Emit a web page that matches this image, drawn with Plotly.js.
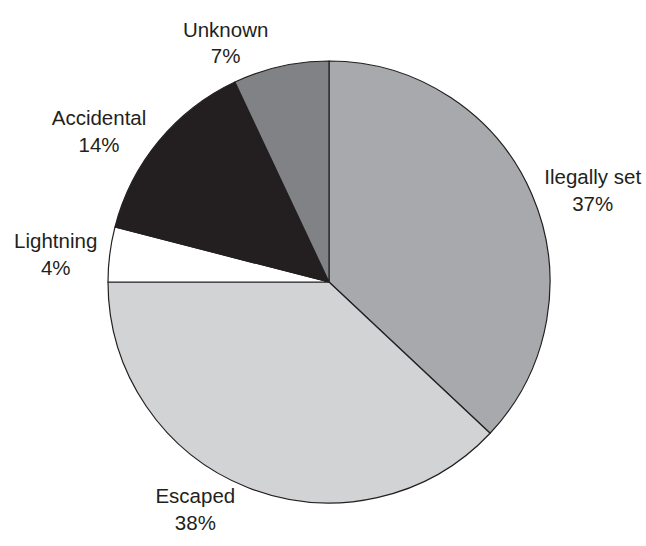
<!DOCTYPE html>
<html>
<head>
<meta charset="utf-8">
<script src="https://cdn.plot.ly/plotly-3.0.1.min.js"></script>
<style>
  html, body { margin: 0; padding: 0; background: #fff; }
  #chart { width: 646px; height: 546px; }
</style>
</head>
<body>
<div id="chart"></div>
<script>
// Causes of fires, share of all fires (%)
const causes = ["Ilegally set", "Escaped", "Lightning", "Accidental", "Unknown"];
const shares = [37, 38, 4, 14, 7];
const sliceColors = ["#a7a9ac", "#d1d3d4", "#ffffff", "#231f20", "#808285"];

const trace = {
  type: "pie",
  labels: causes,
  values: shares,
  sort: false,
  direction: "clockwise",
  rotation: 0,
  marker: { colors: sliceColors, line: { color: "#231f20", width: 1.2 } },
  textposition: "outside",
  texttemplate: "%{label}<br>%{value}%",
  textfont: { family: "Liberation Sans, Arial, sans-serif", size: 20.5, color: "#231f20" },
  hoverinfo: "label+percent",
  automargin: false
};

const layout = {
  width: 646,
  height: 546,
  margin: { l: 108, r: 96, t: 61, b: 43 },
  showlegend: false,
  paper_bgcolor: "#ffffff",
  plot_bgcolor: "#ffffff"
};

Plotly.newPlot("chart", [trace], layout, { displayModeBar: false, staticPlot: true });
</script>
</body>
</html>
